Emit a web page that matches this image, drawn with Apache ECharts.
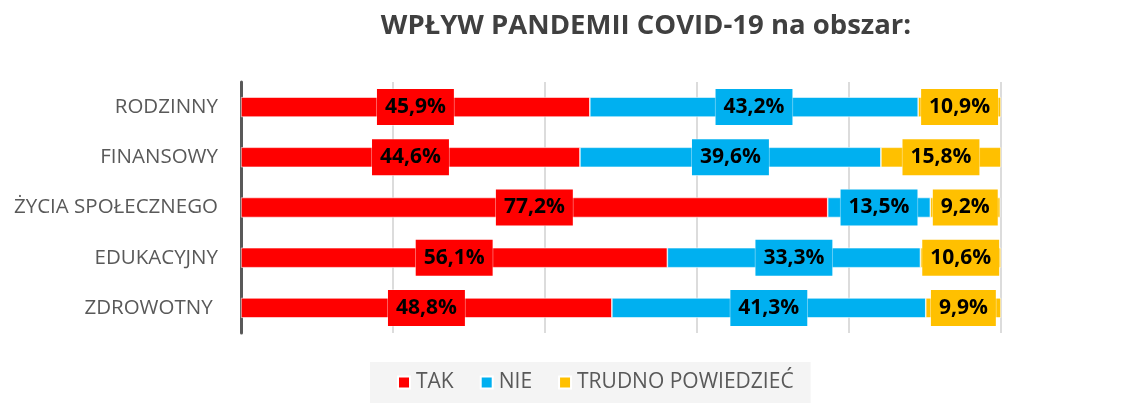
<!DOCTYPE html>
<html><head><meta charset="utf-8">
<script src="https://cdn.jsdelivr.net/npm/echarts@6/dist/echarts.min.js"></script>
<style>html,body{margin:0;padding:0;background:#fff}#c{width:1141px;height:403px}</style>
</head><body><div id="c"></div>
<script>
const categories = ['RODZINNY', 'FINANSOWY', 'ŻYCIA SPOŁECZNEGO', 'EDUKACYJNY', 'ZDROWOTNY '];
const tak = [45.9, 44.6, 77.2, 56.1, 48.8];
const nie = [43.2, 39.6, 13.5, 33.3, 41.3];
const trudno = [10.9, 15.8, 9.2, 10.6, 9.9];
const seriesNames = ['TAK', 'NIE', 'TRUDNO POWIEDZIEĆ'];
const colors = ['#ff0000', '#00b0f0', '#ffc000'];
const fontFam = '"Open Sans", Lato, sans-serif';

const chart = echarts.init(document.getElementById('c'));
function mk(name, data, color) {
  return {
    name, type: 'bar', stack: 'all', data, barWidth: 20,
    itemStyle: { color, borderColor: '#ffffff', borderWidth: 0.6 },
    label: {
      show: true, position: 'inside',
      formatter: p => p.value.toFixed(1).replace('.', ',') + '%',
      color: '#000', fontWeight: 'bold', fontSize: 21, fontFamily: fontFam,
      backgroundColor: color, padding: [9, 8, 6, 8],
      borderColor: 'rgba(255,255,255,0.6)', borderWidth: 0.6
    }
  };
}
chart.setOption({
  animation: false,
  color: colors,
  title: {
    text: 'WPŁYW PANDEMII COVID-19 na obszar:', left: 641, top: 7, textAlign: 'center',
    textStyle: { fontSize: 27.5, fontWeight: 'bold', color: '#404040', fontFamily: fontFam }
  },
  legend: {
    bottom: 0, left: 370, itemWidth: 12, itemHeight: 12, itemGap: 26,
    icon: 'rect', backgroundColor: '#f4f4f4', padding: [10, 17, 10, 27],
    textStyle: { fontSize: 21, color: '#595959', fontFamily: fontFam, padding: [0, 0, 0, 1] },
    data: seriesNames
  },
  grid: { left: 241, right: 140, top: 82, bottom: 70 },
  xAxis: {
    type: 'value', min: 0, max: 100, interval: 20,
    axisLabel: { show: false }, axisLine: { show: false }, axisTick: { show: false },
    splitLine: { lineStyle: { color: '#d0d0d0', width: 1.5 } }
  },
  yAxis: {
    type: 'category', data: categories, inverse: true,
    axisLine: { lineStyle: { color: '#595959', width: 3 } },
    axisTick: { show: false },
    axisLabel: { fontSize: 20.5, color: '#595959', margin: 23, fontFamily: fontFam }
  },
  series: [mk(seriesNames[0], tak, colors[0]), mk(seriesNames[1], nie, colors[1]), mk(seriesNames[2], trudno, colors[2])]
});
</script></body></html>
